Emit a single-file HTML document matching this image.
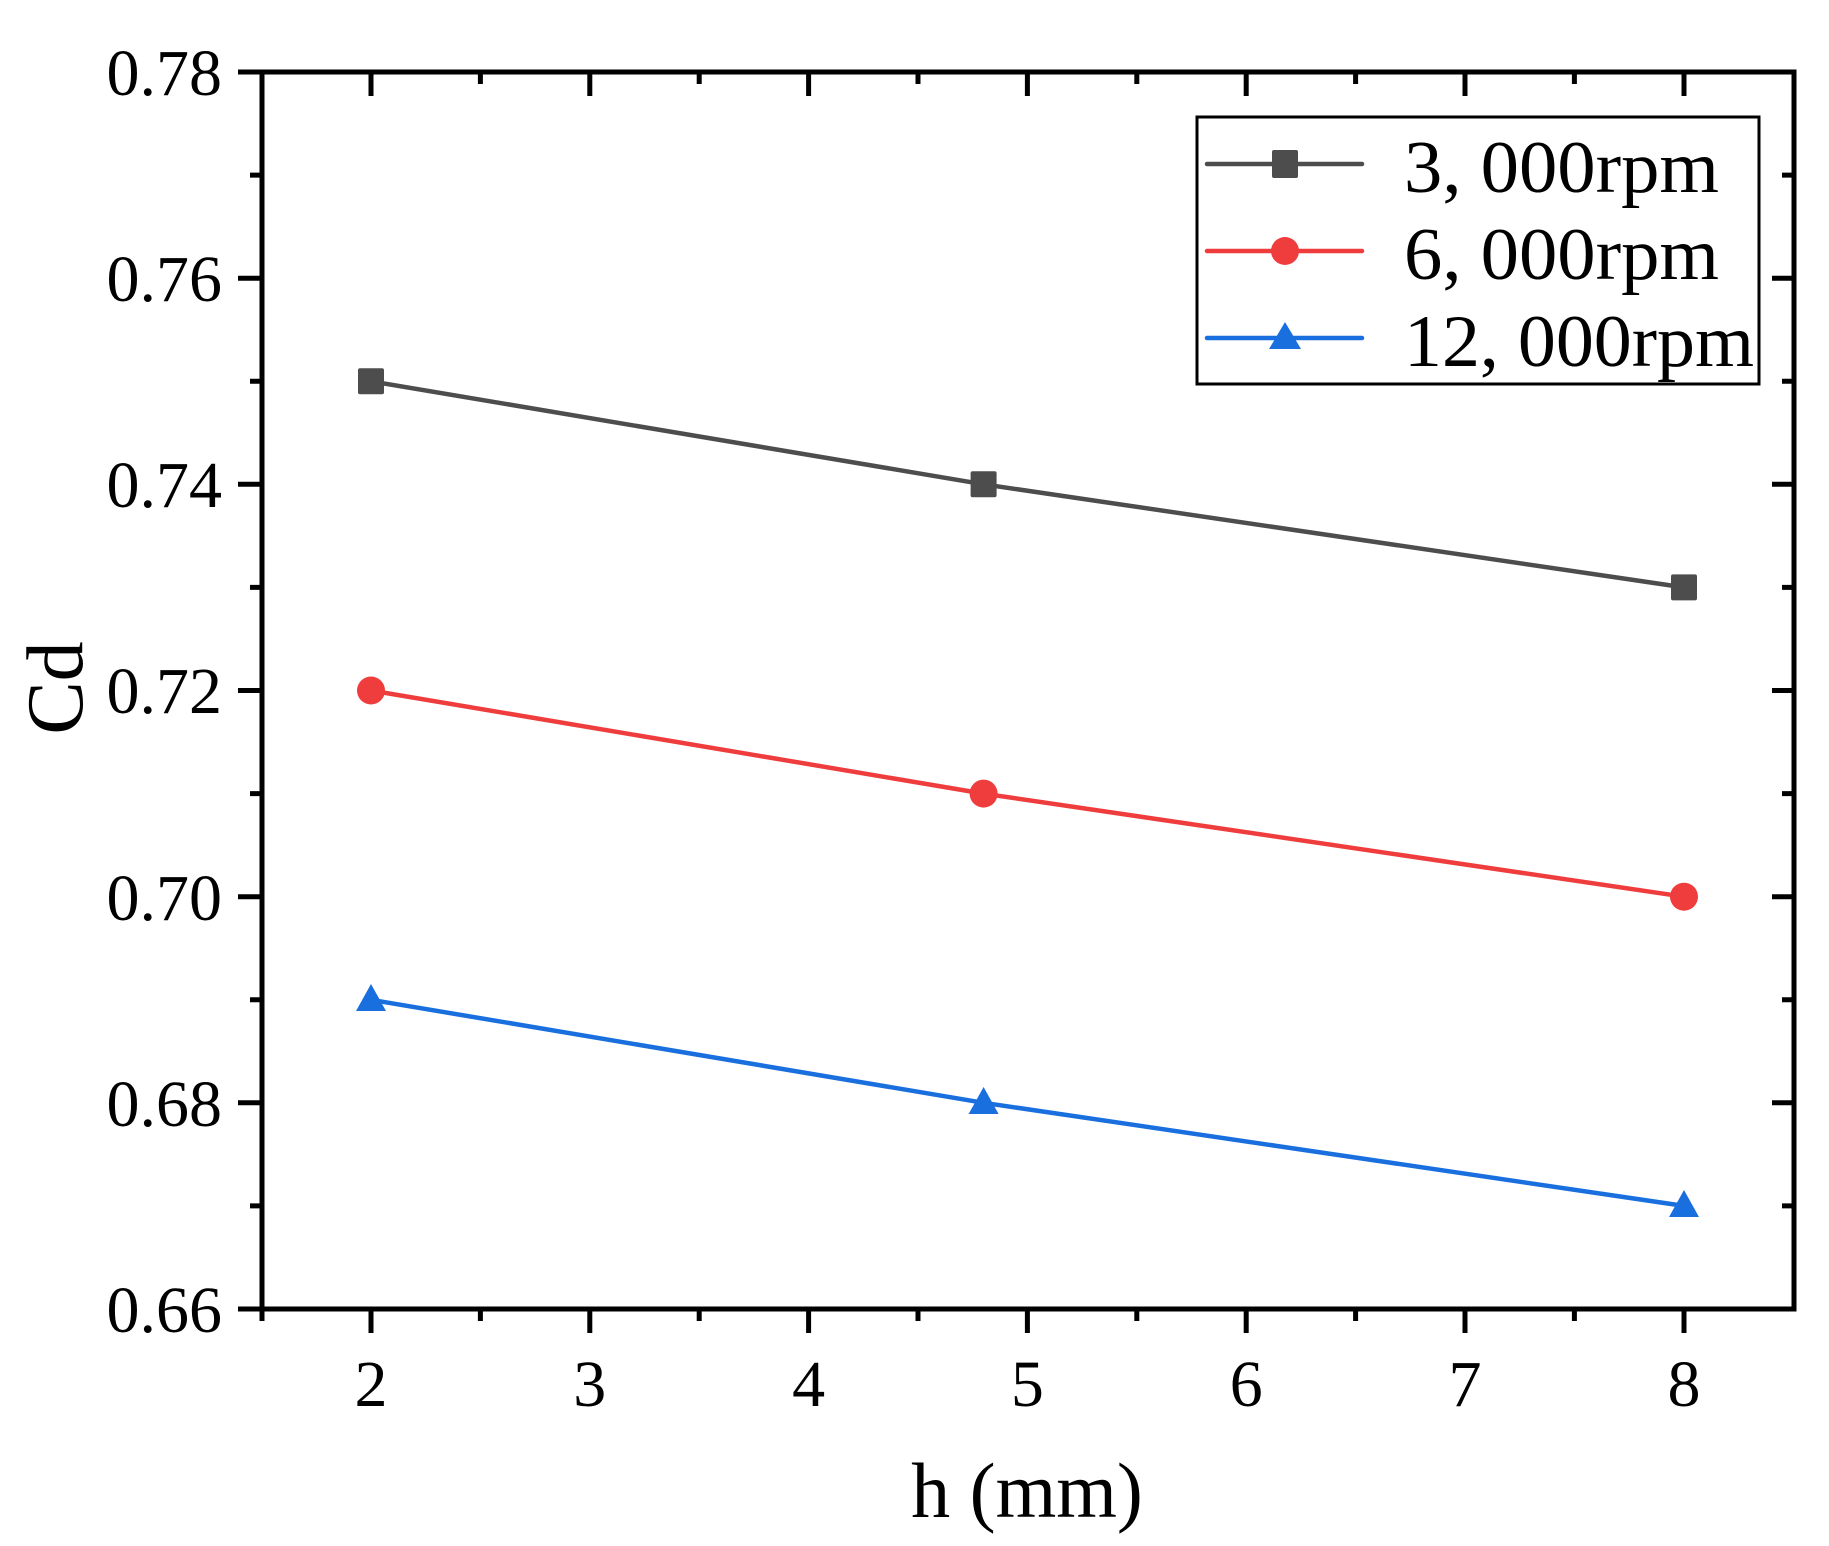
<!DOCTYPE html>
<html><head><meta charset="utf-8"><style>html,body{margin:0;padding:0;background:#fff}svg{display:block}</style></head>
<body>
<svg width="1829" height="1546" viewBox="0 0 1829 1546" xmlns="http://www.w3.org/2000/svg" font-family="Liberation Serif, serif">
<rect width="1829" height="1546" fill="#fff"/>
<g stroke="#000" stroke-width="5" fill="none">
<rect x="262" y="72" width="1532" height="1237"/>
<path d="M238 72H262M238 278.2H262M238 484.3H262M238 690.5H262M238 896.7H262M238 1102.8H262M238 1309H262"/>
<path d="M250 175.1H262M250 381.3H262M250 587.4H262M250 793.6H262M250 999.8H262M250 1205.9H262"/>
<path d="M1772 278.2H1794M1772 484.3H1794M1772 690.5H1794M1772 896.7H1794M1772 1102.8H1794"/>
<path d="M1782 175.1H1794M1782 381.3H1794M1782 587.4H1794M1782 793.6H1794M1782 999.8H1794M1782 1205.9H1794"/>
<path d="M371 1309V1333M589.8 1309V1333M808.6 1309V1333M1027.4 1309V1333M1246.2 1309V1333M1465 1309V1333M1684 1309V1333"/>
<path d="M262 1309V1321M480.4 1309V1321M699.2 1309V1321M918 1309V1321M1136.8 1309V1321M1355.6 1309V1321M1574.4 1309V1321"/>
<path d="M371 72V96M589.8 72V96M808.6 72V96M1027.4 72V96M1246.2 72V96M1465 72V96M1684 72V96"/>
<path d="M480.4 72V84M699.2 72V84M918 72V84M1136.8 72V84M1355.6 72V84M1574.4 72V84"/>
</g>
<g font-size="66" text-anchor="end" fill="#000">
<text x="222" y="95">0.78</text><text x="222" y="301">0.76</text><text x="222" y="507">0.74</text>
<text x="222" y="713">0.72</text><text x="222" y="920">0.70</text><text x="222" y="1126">0.68</text><text x="222" y="1332">0.66</text>
</g>
<g font-size="66" text-anchor="middle" fill="#000">
<text x="371" y="1406">2</text><text x="589.8" y="1406">3</text><text x="808.6" y="1406">4</text><text x="1027.4" y="1406">5</text>
<text x="1246.2" y="1406">6</text><text x="1465" y="1406">7</text><text x="1684" y="1406">8</text>
</g>
<text x="1027" y="1517" font-size="78" text-anchor="middle">h (mm)</text>
<text transform="translate(82,688) rotate(-90)" font-size="80" text-anchor="middle">Cd</text>
<g stroke-width="4.5" fill="none">
<polyline stroke="#4d4d4d" points="371,381.3 983.6,484.3 1684,587.4"/>
<polyline stroke="#ef3d3d" points="371,690.5 983.6,793.6 1684,896.7"/>
<polyline stroke="#1a6fdf" points="371,999.8 983.6,1102.8 1684,1205.9"/>
</g>
<g fill="#4d4d4d"><rect x="358" y="368.3" width="26" height="26" rx="2"/><rect x="970.6" y="471.3" width="26" height="26" rx="2"/><rect x="1671" y="574.4" width="26" height="26" rx="2"/></g>
<g fill="#ef3d3d"><circle cx="371" cy="690.5" r="14"/><circle cx="983.6" cy="793.6" r="14"/><circle cx="1684" cy="896.7" r="14"/></g>
<g fill="#1a6fdf"><path d="M371 984L356 1011H386Z"/><path d="M983.6 1087L968.6 1114H998.6Z"/><path d="M1684 1190L1669 1217H1699Z"/></g>
<rect x="1197" y="117" width="562" height="267" fill="#fff" stroke="#000" stroke-width="3"/>
<g stroke-width="4.5" stroke-linecap="round">
<line x1="1207" y1="164" x2="1362" y2="164" stroke="#4d4d4d"/>
<line x1="1207" y1="251" x2="1362" y2="251" stroke="#ef3d3d"/>
<line x1="1207" y1="338" x2="1362" y2="338" stroke="#1a6fdf"/>
</g>
<rect x="1272" y="150" width="26" height="28" rx="2" fill="#4d4d4d"/>
<circle cx="1285" cy="251" r="14" fill="#ef3d3d"/>
<path d="M1285 322L1269 349H1301Z" fill="#1a6fdf"/>
<g font-size="74" fill="#000">
<text x="1404" y="192" textLength="315" lengthAdjust="spacingAndGlyphs">3, 000rpm</text>
<text x="1404" y="279" textLength="315" lengthAdjust="spacingAndGlyphs">6, 000rpm</text>
<text x="1404" y="366" textLength="350" lengthAdjust="spacingAndGlyphs">12, 000rpm</text>
</g>
</svg>
</body></html>
